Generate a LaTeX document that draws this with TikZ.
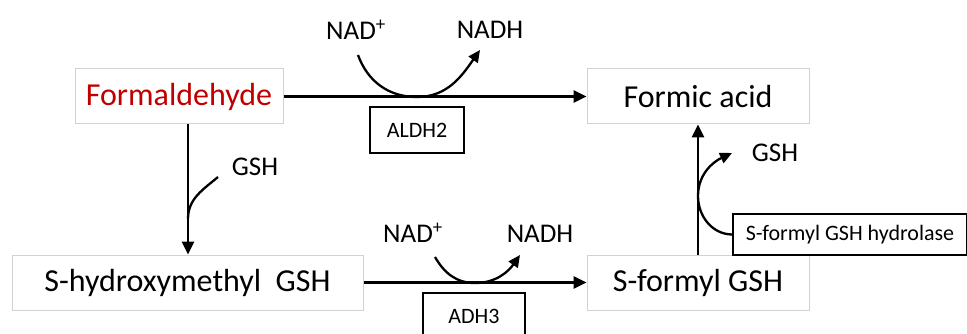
\documentclass[tikz,border=0pt]{standalone}
\usepackage{fontspec}
\setmainfont{Carlito}
\usetikzlibrary{arrows.meta}
\definecolor{AldClr}{RGB}{192,0,0}
\definecolor{BoxClr}{RGB}{210,210,210}

\begin{document}
\begin{tikzpicture}[x=1pt,y=-1pt,
  cmpd/.style={draw=BoxClr,line width=1pt,minimum height=55pt,inner sep=0pt,font=\fontsize{32}{32}\selectfont},
  enz/.style={draw=black,line width=1.2pt,inner sep=0pt,font=\fontsize{22}{22}\selectfont},
  cof/.style={inner sep=0pt,font=\fontsize{27}{27}\selectfont},
  rxn/.style={line width=2.8pt,-{Triangle[length=13pt,width=12pt]}},
  side/.style={line width=2.3pt,-{Triangle[length=12pt,width=11pt]}}]
\useasboundingbox (0,0) rectangle (967,334);

% compounds
\node[cmpd,minimum width=208pt,text=AldClr] (fald) at (179,96.5) {Formaldehyde};
\node[cmpd,minimum width=222pt] (formic) at (698,96.5) {Formic acid};
\node[cmpd,minimum width=351pt] (hmgsh) at (187.5,282.5) {S-hydroxymethyl\ \ GSH};
\node[cmpd,minimum width=222pt] (fgsh) at (698,282.5) {S-formyl GSH};

% enzymes
\node[enz,minimum width=94pt,minimum height=46pt] (aldh) at (417,130) {ALDH2};
\node[enz,minimum width=102pt,minimum height=46pt] (adh) at (474,316) {ADH3};
\node[enz,minimum width=234pt,minimum height=41pt] (hyd) at (850,234.5) {S-formyl GSH hydrolase};

% cofactors
\node[cof] (nad1) at (356,30) {NAD\textsuperscript{+}};
\node[cof] (nadh1) at (490,30) {NADH};
\node[cof] (gsh1) at (255,167) {GSH};
\node[cof] (nad2) at (413,233) {NAD\textsuperscript{+}};
\node[cof] (nadh2) at (540,234) {NADH};
\node[cof] (gsh2) at (775,153) {GSH};

\coordinate (t1) at (480,50);
\coordinate (t2) at (520,255);
\coordinate (j1) at (188,219);
\coordinate (j2) at (698,196);
\coordinate (t3) at (732,153);

% main reactions
\draw[rxn] (fald) -- (formic);
\draw[rxn] (hmgsh) -- (fgsh);
\draw[rxn] (fald.south -| j1) -- (hmgsh.north -| j1);
\draw[rxn] (fgsh.north) -- (formic.south);

% cofactor arcs
\draw[side] (358,55) to[out=-70,in=180] (417,97) to[out=0,in=-125] (t1);
\draw[side] (435,257) to[out=-60,in=180] (475,283) to[out=0,in=-125] (t2);
\draw[line width=2.3pt] (218,177) to[out=-140,in=90] (j1);
\draw[side] (hyd.west) to[out=180,in=-90] (j2) to[out=90,in=205] (t3);

\end{tikzpicture}
\end{document}
